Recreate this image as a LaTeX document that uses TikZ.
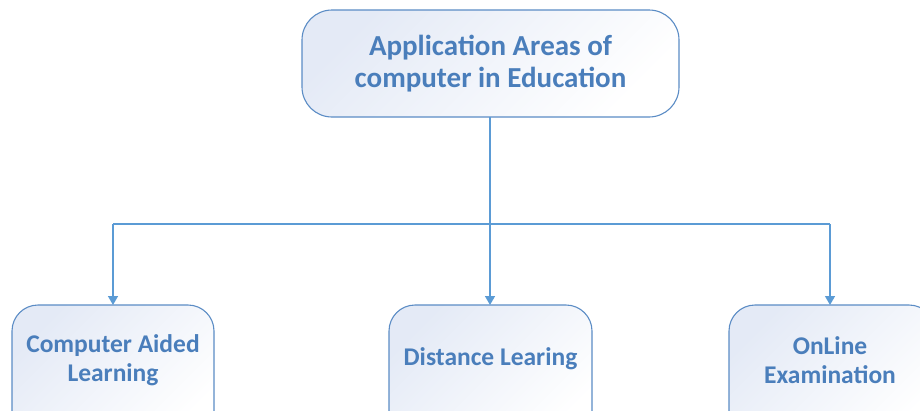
\documentclass[tikz,border=0pt]{standalone}
\usepackage{fontspec}
\setmainfont{Carlito}
\usetikzlibrary{arrows.meta}
\definecolor{edge}{HTML}{5B8CC5}
\definecolor{line}{HTML}{5B9BD5}
\definecolor{txt}{HTML}{4A7EBB}
\definecolor{shadea}{HTML}{E4EAF6}
\tikzset{
  box/.style={draw=edge, line width=1.1pt, rounded corners=30pt, top color=shadea, bottom color=white, shading angle=45},
  lbl/.style={text=txt, align=center},
  conn/.style={draw=line, line width=1.4pt},
  arr/.style={conn, -{Triangle[width=10pt,length=9pt]}}
}
\begin{document}
\begin{tikzpicture}[x=1pt,y=-1pt]
\useasboundingbox (0,0) rectangle (920,410);
\clip (0,0) rectangle (920,410);
\path[box] (302,10) rectangle (679,117);
\node[lbl, font=\fontsize{29}{32}\selectfont\bfseries] (top) at (490.5,63.5) {Application Areas of\\computer in Education};
\path[box, rounded corners=26pt] (12,305) rectangle (214,440);
\path[box, rounded corners=26pt] (389,305) rectangle (592,440);
\path[box, rounded corners=26pt] (729,305) rectangle (935,440);
\node[lbl, font=\fontsize{25.5}{29}\selectfont\bfseries] (cal) at (113,360) {Computer Aided\\Learning};
\node[lbl, font=\fontsize{25.5}{29}\selectfont\bfseries] (dl) at (490.5,359) {Distance Learing};
\node[lbl, font=\fontsize{25.5}{29}\selectfont\bfseries] (ol) at (830,360) {OnLine\\Examination};
\coordinate (a) at (490,117);
\coordinate (j) at (490,224);
\coordinate (jl) at (113,224);
\coordinate (jr) at (830,224);
\coordinate (bl) at (113,305);
\coordinate (bm) at (490,305);
\coordinate (br) at (830,305);
\draw[conn] (a) -- (j);
\draw[conn] (jl) -- (jr);
\draw[arr] (jl) -- (bl);
\draw[arr] (j) -- (bm);
\draw[arr] (jr) -- (br);
\end{tikzpicture}
\end{document}
